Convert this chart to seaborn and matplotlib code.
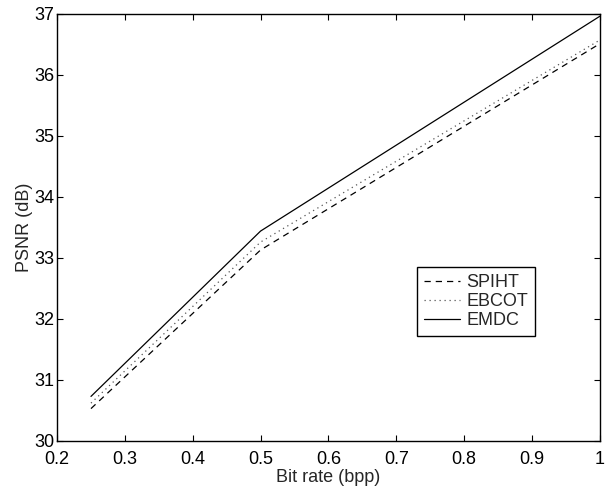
import numpy as np
import pandas as pd
import matplotlib
matplotlib.use("Agg")
import matplotlib.pyplot as plt
import seaborn as sns

# data
bit_rate = [0.25, 0.5, 1.0]
spiht = [30.53, 33.13, 36.51]
ebcot = [30.62, 33.26, 36.57]
emdc = [30.73, 33.44, 36.96]
methods = ["SPIHT", "EBCOT", "EMDC"]
x_ticklabels = ["0.2", "0.3", "0.4", "0.5", "0.6", "0.7", "0.8", "0.9", "1"]

df = pd.DataFrame({
    "bpp": bit_rate * 3,
    "psnr": spiht + ebcot + emdc,
    "method": [m for m in methods for _ in bit_rate],
})

sns.set_style("ticks")
plt.rcParams["font.family"] = ["Liberation Sans", "DejaVu Sans"]
fs = 13

fig = plt.figure(figsize=(6.07, 4.96), dpi=100)
ax = fig.add_axes([0.094, 0.111, 0.894, 0.861])

styles = {"SPIHT": (0, (5, 4)), "EBCOT": (0, (1, 3)), "EMDC": "-"}
colors = {"SPIHT": "black", "EBCOT": "#555555", "EMDC": "black"}
for m in methods:
    sub = df[df["method"] == m]
    sns.lineplot(data=sub, x="bpp", y="psnr", ax=ax, color=colors[m],
                 linestyle=styles[m], linewidth=0.9, label=m)

ax.set_xlim(0.2, 1.0)
ax.set_ylim(30, 37)
ax.set_xticks(np.linspace(0.2, 1.0, 9))
ax.set_xticklabels(x_ticklabels)
ax.set_yticks(range(30, 38))
ax.set_xlabel("Bit rate (bpp)", fontsize=fs, labelpad=1)
ax.set_ylabel("PSNR (dB)", fontsize=fs, labelpad=1)
ax.tick_params(direction="in", top=True, right=True, length=4, width=0.8,
               labelsize=fs, colors="black", pad=2)
ax.tick_params(axis="x", pad=7)
for s in ax.spines.values():
    s.set_visible(True)
    s.set_color("black")
    s.set_linewidth(1.0)

leg = ax.legend(loc="upper left", bbox_to_anchor=(0.663, 0.407), fontsize=fs,
                frameon=True, fancybox=False, edgecolor="black", framealpha=1,
                handlelength=2.0, handletextpad=0.35, borderpad=0.4,
                labelspacing=0.1, borderaxespad=0)
leg.get_frame().set_linewidth(1.0)

fig.savefig("out.png", dpi=100)
